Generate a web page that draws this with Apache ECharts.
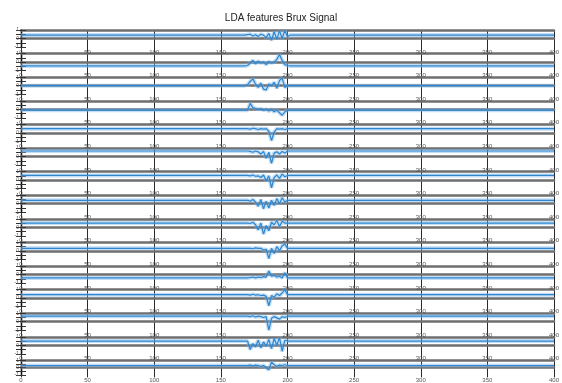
<!DOCTYPE html>
<html>
<head>
<meta charset="utf-8">
<script src="https://cdn.jsdelivr.net/npm/echarts@6/dist/echarts.min.js"></script>
<style>
  html, body { margin: 0; padding: 0; background: #fff; }
  #chart { width: 562px; height: 383px; }
</style>
</head>
<body>
<div id="chart"></div>
<script>
// Sample positions (x) where the burst activity is recorded
const burstX = [170, 172, 174, 176, 178, 180, 182, 184, 186, 188, 190, 192, 194, 196, 198, 200];
const xTickLabels = ['0', '50', '100', '150', '200', '250', '300', '350', '400'];

// Resting level of each LDA feature outside the burst
const restLevel = [0.4, -0.45, 0.0, -0.1, 0.5, 0.65, 0.55, 0.4, 0.5, 0.3, -0.4, 0.4, 0.65, 0.5, 0.3];

// Feature values during the burst, one array per feature
const lda1  = [0.45, 0.5, 0.3, 0.45, 0.25, 0.5, 0.4, 0.1, 0.6, -0.2, 0.8, -0.1, 0.9, 0.0, 0.95, 0.2];
const lda2  = [-0.4, -0.1, 0.2, -0.2, 0.1, -0.1, 0.0, -0.3, 0.05, -0.1, 0.0, 0.3, 0.9, 0.2, -0.3, -0.4];
const lda3  = [0.1, 0.5, 0.8, 0.2, -0.2, 0.3, -0.4, -0.5, 0.2, 0.0, 0.4, -0.3, 0.6, 0.9, -0.2, 0.0];
const lda4  = [-0.1, 0.7, 0.2, 0.1, 0.0, 0.05, -0.1, 0.0, -0.2, 0.0, -0.3, -0.1, -0.4, -0.7, -0.3, -0.1];
const lda5  = [0.5, 0.45, 0.55, 0.5, 0.4, 0.5, 0.45, 0.5, 0.2, -0.9, 0.1, 0.5, 0.45, 0.5, 0.4, 0.5];
const lda6  = [0.65, 0.6, 0.5, 0.65, 0.55, 0.3, 0.6, -0.2, 0.5, -0.8, 0.4, 0.55, 0.3, 0.6, 0.4, 0.65];
const lda7  = [0.55, 0.5, 0.6, 0.45, 0.5, 0.3, 0.6, -0.1, 0.5, -0.9, 0.3, 0.6, 0.2, 0.7, 0.4, 0.55];
const lda8  = [0.4, 0.3, 0.5, 0.2, -0.3, 0.5, -0.6, 0.3, -0.5, 0.4, -0.2, 0.6, 0.0, 0.7, 0.2, 0.4];
const lda9  = [0.5, 0.45, 0.6, 0.3, -0.3, 0.5, -0.8, 0.2, -0.4, 0.6, 0.3, 0.8, 0.1, 0.7, 0.5, 0.5];
const lda10 = [0.3, 0.3, 0.25, 0.35, 0.3, 0.3, 0.1, 0.2, -0.9, 0.3, -0.3, 0.5, 0.0, 0.6, 0.8, 0.3];
const lda11 = [-0.4, -0.35, -0.3, -0.4, -0.3, -0.35, -0.25, -0.3, 0.4, -0.2, -0.1, -0.3, -0.2, -0.4, 0.2, -0.4];
const lda12 = [0.4, 0.35, 0.45, 0.35, 0.4, 0.3, 0.35, 0.2, -0.9, 0.3, 0.1, 0.5, 0.3, 0.6, 1.0, 0.4];
const lda13 = [0.65, 0.6, 0.7, 0.55, 0.65, 0.6, 0.5, 0.6, -1.0, 0.4, 0.6, 0.45, 0.3, 0.6, 0.5, 0.65];
const lda14 = [0.5, -0.5, 0.2, -0.2, 0.6, -0.3, 0.4, -0.1, 0.7, -0.4, 0.8, 0.0, 0.9, -0.7, 0.6, 0.5];
const lda15 = [0.3, 0.35, 0.25, 0.35, 0.3, 0.2, 0.3, 0.0, -0.3, 0.75, 0.4, 0.2, 0.35, 0.3, 0.4, 0.3];

const features = [lda1, lda2, lda3, lda4, lda5, lda6, lda7, lda8, lda9, lda10, lda11, lda12, lda13, lda14, lda15];

const chart = echarts.init(document.getElementById('chart'), null, { renderer: 'canvas' });

const panelTop = 30;
const panelStep = 23.6;
const panelHeight = 17;
const leftPx = 21;
const rightPx = 8;
const n = features.length;

const grids = [];
const xAxes = [];
const yAxes = [];
const series = [];

features.forEach((vals, i) => {
  const top = panelTop + i * panelStep;
  grids.push({ left: leftPx, right: rightPx, top: top, height: panelHeight, containLabel: false });

  // bottom axis with tick labels
  xAxes.push({
    gridIndex: i, type: 'value', min: 0, max: 400, interval: 50, position: 'bottom',
    axisLine: { show: true, lineStyle: { color: '#6f6f6f', width: 2.5 } },
    axisTick: { show: false },
    splitLine: { show: false },
    axisLabel: {
      show: true, fontSize: 6, color: '#555', margin: 2, fontFamily: 'Liberation Sans',
      showMinLabel: true, showMaxLabel: true,
      formatter: v => xTickLabels[Math.round(v / 50)]
    }
  });
  // top frame line
  xAxes.push({
    gridIndex: i, type: 'value', min: 0, max: 400, interval: 50, position: 'top',
    axisLine: { show: true, onZero: false, lineStyle: { color: '#6f6f6f', width: 2.5 } },
    axisTick: { show: false }, axisLabel: { show: false }, splitLine: { show: false }
  });
  // left axis
  yAxes.push({
    gridIndex: i, type: 'value', min: -1, max: 1, interval: 0.5, position: 'left',
    axisLine: { show: true, lineStyle: { color: '#111', width: 1.3 } },
    axisTick: { show: true, inside: true, length: 5, lineStyle: { color: '#333', width: 1 } },
    splitLine: { show: false },
    axisLabel: {
      show: true, fontSize: 5, color: '#555', margin: 2, fontFamily: 'Liberation Sans',
      formatter: v => (Math.abs(v) === 0.5 ? '' : String(v))
    }
  });
  // right axis
  yAxes.push({
    gridIndex: i, type: 'value', min: -1, max: 1, interval: 0.5, position: 'right',
    axisLine: { show: true, lineStyle: { color: '#111', width: 1.3 } },
    axisTick: { show: true, inside: true, length: 5, lineStyle: { color: '#333', width: 1 } },
    splitLine: { show: false }, axisLabel: { show: false }
  });

  const base = restLevel[i];
  const data = [[0, base], [168, base]]
    .concat(burstX.map((x, k) => [x, vals[k]]))
    .concat([[202, base], [400, base]]);

  // soft halo under the trace
  series.push({
    type: 'line', xAxisIndex: 2 * i, yAxisIndex: 2 * i, data: data,
    symbol: 'none', silent: true, z: 3, clip: true,
    lineStyle: { color: 'rgba(120,180,232,0.45)', width: 4 }
  });
  series.push({
    type: 'line', xAxisIndex: 2 * i, yAxisIndex: 2 * i, data: data,
    symbol: 'none', silent: true, z: 4, clip: true,
    lineStyle: { color: '#2c86d0', width: 1.2 }
  });
});

// background grid carrying the vertical lines through every panel
grids.push({ left: leftPx, right: rightPx, top: panelTop, height: (n - 1) * panelStep + panelHeight, containLabel: false, z: 0 });
xAxes.push({
  gridIndex: n, type: 'value', min: 0, max: 400, interval: 50,
  axisLine: { show: false }, axisTick: { show: false }, axisLabel: { show: false },
  splitLine: { show: true, lineStyle: { color: '#2a2a2a', width: 1 } }
});
yAxes.push({
  gridIndex: n, type: 'value', min: 0, max: 1, show: false, splitLine: { show: false }
});

chart.setOption({
  animation: false,
  backgroundColor: '#fff',
  title: {
    text: 'LDA features Brux Signal',
    left: 'center', top: 8,
    textStyle: { fontSize: 10, fontWeight: 'normal', color: '#222', fontFamily: 'Liberation Sans Narrow, Liberation Sans, Arial' }
  },
  grid: grids,
  xAxis: xAxes,
  yAxis: yAxes,
  series: series
});
</script>
</body>
</html>
